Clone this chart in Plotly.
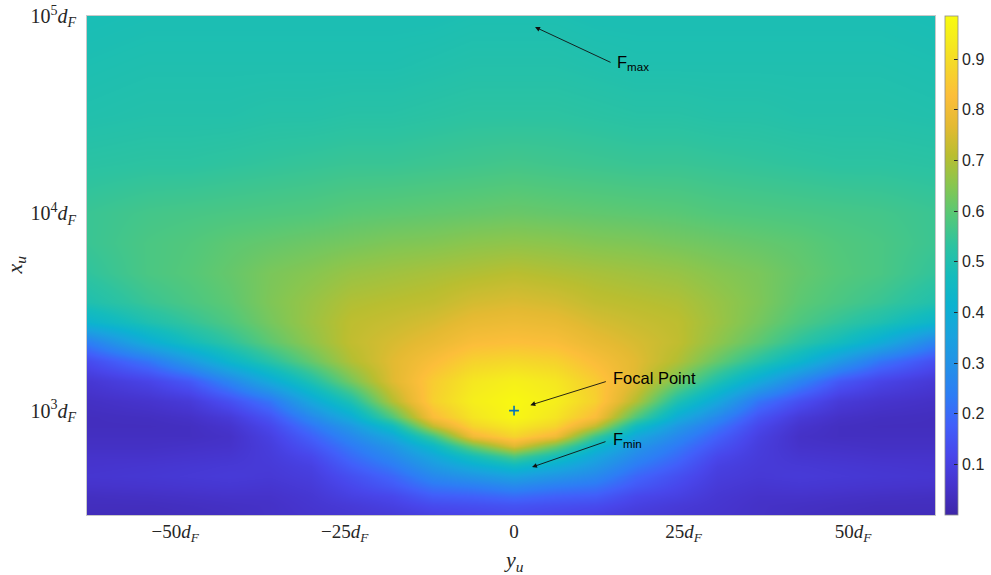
import numpy as np
import plotly.graph_objects as go

# Lateral offset y_u (units of d_F), right half; the field is mirrored about y_u = 0
y_half = [0, 6, 12, 18, 24, 30, 36, 42, 48, 54, 63]

# log10 of the axial distance x_u (units of d_F)
log_x = [2.47, 2.52, 2.57, 2.62, 2.67, 2.72, 2.77, 2.82, 2.87, 2.92, 2.97,
         3.05, 3.15, 3.25, 3.35, 3.45, 3.55, 3.70, 3.85, 4.00, 4.25, 4.50,
         4.75, 5.00]

# Normalised field value along x_u for each lateral offset
F_y00 = [0.12, 0.15, 0.20, 0.27, 0.35, 0.45, 0.58, 0.76, 0.88, 0.93, 0.97,
         0.975, 0.95, 0.89, 0.83, 0.79, 0.755, 0.71, 0.66, 0.615, 0.565, 0.53,
         0.51, 0.495]
F_y06 = [0.11, 0.14, 0.18, 0.24, 0.31, 0.39, 0.48, 0.62, 0.80, 0.88, 0.92,
         0.945, 0.925, 0.875, 0.82, 0.78, 0.745, 0.70, 0.655, 0.61, 0.56, 0.53,
         0.51, 0.495]
F_y12 = [0.10, 0.13, 0.17, 0.22, 0.27, 0.32, 0.37, 0.44, 0.56, 0.72, 0.82,
         0.87, 0.86, 0.82, 0.78, 0.75, 0.72, 0.69, 0.645, 0.605, 0.555, 0.525,
         0.505, 0.49]
F_y18 = [0.08, 0.10, 0.12, 0.16, 0.19, 0.23, 0.27, 0.31, 0.37, 0.46, 0.58,
         0.70, 0.76, 0.765, 0.75, 0.73, 0.71, 0.68, 0.64, 0.60, 0.55, 0.52,
         0.50, 0.49]
F_y24 = [0.07, 0.08, 0.10, 0.12, 0.14, 0.17, 0.20, 0.23, 0.27, 0.32, 0.39,
         0.50, 0.63, 0.70, 0.72, 0.715, 0.70, 0.67, 0.63, 0.595, 0.55, 0.52,
         0.50, 0.49]
F_y30 = [0.06, 0.065, 0.07, 0.08, 0.09, 0.10, 0.12, 0.15, 0.18, 0.22, 0.27,
         0.37, 0.50, 0.61, 0.66, 0.675, 0.67, 0.65, 0.62, 0.585, 0.545, 0.515,
         0.50, 0.49]
F_y36 = [0.05, 0.05, 0.055, 0.065, 0.075, 0.08, 0.085, 0.09, 0.10, 0.12, 0.15,
         0.22, 0.38, 0.52, 0.60, 0.63, 0.64, 0.635, 0.61, 0.58, 0.54, 0.515,
         0.50, 0.49]
F_y42 = [0.04, 0.045, 0.055, 0.07, 0.08, 0.075, 0.065, 0.055, 0.05, 0.06, 0.08,
         0.14, 0.26, 0.43, 0.53, 0.58, 0.60, 0.61, 0.60, 0.575, 0.535, 0.51,
         0.50, 0.49]
F_y48 = [0.035, 0.04, 0.05, 0.065, 0.075, 0.07, 0.06, 0.05, 0.04, 0.04, 0.05,
         0.08, 0.16, 0.32, 0.47, 0.54, 0.575, 0.59, 0.585, 0.57, 0.53, 0.51,
         0.50, 0.49]
F_y54 = [0.03, 0.035, 0.045, 0.06, 0.07, 0.065, 0.055, 0.045, 0.04, 0.035, 0.04,
         0.06, 0.11, 0.22, 0.39, 0.50, 0.55, 0.575, 0.575, 0.565, 0.53, 0.51,
         0.50, 0.49]
F_y63 = [0.03, 0.035, 0.04, 0.055, 0.065, 0.06, 0.055, 0.045, 0.04, 0.035, 0.035,
         0.045, 0.07, 0.13, 0.24, 0.42, 0.50, 0.535, 0.55, 0.55, 0.525, 0.505,
         0.495, 0.485]

# Focal point location
focal_y, focal_x = 0.0, 1000.0

# Tick labels
x_tickvals = [-50, -25, 0, 25, 50]
x_ticktext = ["\u221250<i>d</i><sub><i>F</i></sub>", "\u221225<i>d</i><sub><i>F</i></sub>", "0",
              "25<i>d</i><sub><i>F</i></sub>", "50<i>d</i><sub><i>F</i></sub>"]
y_tickvals = [1e3, 1e4, 1e5]
y_ticktext = ["10<sup>3</sup><i>d</i><sub><i>F</i></sub>",
              "10<sup>4</sup><i>d</i><sub><i>F</i></sub>",
              "10<sup>5</sup><i>d</i><sub><i>F</i></sub>"]
cbar_ticks = [0.1, 0.2, 0.3, 0.4, 0.5, 0.6, 0.7, 0.8, 0.9]

# Build the full (mirrored) grid
half = np.column_stack([F_y00, F_y06, F_y12, F_y18, F_y24, F_y30,
                        F_y36, F_y42, F_y48, F_y54, F_y63])
z = np.hstack([half[:, :0:-1], half])
y_u = [-v for v in y_half[:0:-1]] + y_half
x_u = [10 ** v for v in log_x]

# Parula-style colour map
parula = [
    [0.00, "rgb(62,38,168)"],
    [0.06, "rgb(70,52,205)"],
    [0.12, "rgb(72,70,235)"],
    [0.18, "rgb(65,95,250)"],
    [0.24, "rgb(45,125,245)"],
    [0.30, "rgb(35,145,232)"],
    [0.36, "rgb(25,163,222)"],
    [0.42, "rgb(12,178,208)"],
    [0.48, "rgb(20,188,188)"],
    [0.54, "rgb(45,195,160)"],
    [0.60, "rgb(85,200,120)"],
    [0.66, "rgb(135,198,80)"],
    [0.72, "rgb(185,190,48)"],
    [0.78, "rgb(228,186,50)"],
    [0.84, "rgb(252,190,58)"],
    [0.90, "rgb(245,215,42)"],
    [0.95, "rgb(245,235,30)"],
    [1.00, "rgb(249,251,14)"],
]

W, H = 991, 575
L, R, T, B = 87, 56, 16, 60
plot_w = W - L - R

fig = go.Figure()
fig.add_trace(go.Heatmap(
    x=y_u, y=x_u, z=z, zsmooth="best", colorscale=parula,
    zmin=0.0, zmax=0.985,
    colorbar=dict(
        x=(945 - L) / plot_w, xanchor="left", xpad=0, ypad=0,
        y=0.5, yanchor="middle", len=1.0, lenmode="fraction",
        thickness=13, outlinewidth=0.8, outlinecolor="#8c8c8c",
        tickvals=cbar_ticks, ticktext=[f"{t:.1f}" for t in cbar_ticks],
        ticks="inside", ticklen=4, tickcolor="#262626", tickwidth=0.8,
        tickfont=dict(family="Liberation Sans, Arial, sans-serif", size=16, color="#262626"),
    ),
    hoverinfo="skip",
))

fig.add_trace(go.Scatter(
    x=[focal_y], y=[focal_x], mode="markers",
    marker=dict(symbol="cross-thin", size=7, line=dict(color="#0072BD", width=1.6)),
    showlegend=False, hoverinfo="skip",
))

serif = "Liberation Serif, Times New Roman, serif"
sans = "Liberation Sans, Arial, sans-serif"

fig.update_xaxes(
    range=[-63, 62.1], tickvals=x_tickvals, ticktext=x_ticktext,
    tickfont=dict(family=serif, size=19, color="#262626"),
    showgrid=False, zeroline=False, ticks="", ticklabelstandoff=-1, automargin=False,
    showline=True, linecolor="rgba(38,38,38,0.25)", linewidth=1, mirror=True,
)
fig.update_yaxes(
    type="log", range=[np.log10(296), 5.0], tickvals=y_tickvals, ticktext=y_ticktext,
    tickfont=dict(family=serif, size=20, color="#262626"),
    showgrid=False, zeroline=False, ticks="", ticklabelstandoff=6, automargin=False,
    showline=True, linecolor="rgba(38,38,38,0.25)", linewidth=1, mirror=True,
)

annotations = [
    # axis titles
    dict(x=0.5035, y=0, xref="paper", yref="paper", yshift=-46, showarrow=False,
         text="<i>y<sub>u</sub></i>", font=dict(family=serif, size=22, color="#262626"),
         xanchor="center", yanchor="middle"),
    dict(x=0, y=0.5, xref="paper", yref="paper", xshift=-72, showarrow=False,
         text="<i>x<sub>u</sub></i>", textangle=-90,
         font=dict(family=serif, size=22, color="#262626"),
         xanchor="center", yanchor="middle"),
    # arrows
    dict(x=2.4, y=3.028, xref="x", yref="y", ax=77, ay=-24, text="",
         showarrow=True, arrowhead=2, arrowsize=1.1, arrowwidth=0.9, arrowcolor="#111111"),
    dict(x=2.65, y=2.714, xref="x", yref="y", ax=75, ay=-26, text="",
         showarrow=True, arrowhead=2, arrowsize=1.1, arrowwidth=0.9, arrowcolor="#111111"),
    dict(x=3.1, y=4.944, xref="x", yref="y", ax=77, ay=36, text="",
         showarrow=True, arrowhead=2, arrowsize=1.1, arrowwidth=0.9, arrowcolor="#111111"),
    # labels
    dict(x=2.4, y=3.028, xref="x", yref="y", xshift=81, yshift=27, showarrow=False,
         text="Focal Point", font=dict(family=sans, size=16.5, color="#000000"),
         xanchor="left", yanchor="middle"),
    dict(x=2.65, y=2.714, xref="x", yref="y", xshift=79, yshift=27, showarrow=False,
         text="F<sub>min</sub>", font=dict(family=sans, size=16.5, color="#000000"),
         xanchor="left", yanchor="middle"),
    dict(x=3.1, y=4.944, xref="x", yref="y", xshift=80, yshift=-36, showarrow=False,
         text="F<sub>max</sub>", font=dict(family=sans, size=16.5, color="#000000"),
         xanchor="left", yanchor="middle"),
]

fig.update_layout(
    width=W, height=H, margin=dict(l=L, r=R, t=T, b=B, autoexpand=False),
    paper_bgcolor="white", plot_bgcolor="white",
    annotations=annotations, showlegend=False,
)

fig.write_html("out.html")
